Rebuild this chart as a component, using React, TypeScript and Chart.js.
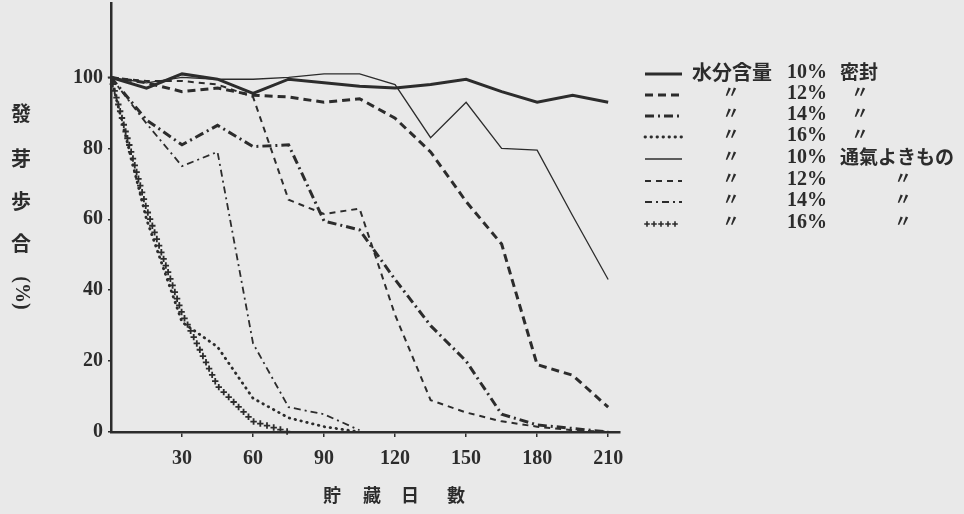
import React, { useEffect, useRef } from "react";
import { Chart, registerables } from "chart.js";
Chart.register(...registerables);

// ---- data ----
const days = [0, 15, 30, 45, 60, 75, 90, 105, 120, 135, 150, 165, 180, 195, 210];
const sealed10 = [100, 97, 101, 99.5, 95.5, 99.5, 98.5, 97.5, 97, 98, 99.5, 96, 93, 95, 93];
const sealed12 = [100, 98.5, 96, 97, 95, 94.5, 93, 94, 88.5, 79, 65, 53, 19, 16, 7];
const sealed14 = [100, 88, 81, 86.5, 80.5, 81, 59.5, 57, 43, 30, 20, 5, 2, 1, 0];
const sealed16 = [100, 60, 31, 24, 9.5, 4, 1.5, 0, null, null, null, null, null, null, null];
const aerated10 = [100, 98.5, 100, 99.5, 99.5, 100, 101, 101, 98, 83, 93, 80, 79.5, 61, 43];
const aerated12 = [100, 99, 99, 98, 94.5, 65.5, 61.5, 63, 33, 9, 5.5, 3, 1.5, 0.5, 0];
const aerated14 = [100, 87, 75, 79, 25, 7, 5, 0.5, null, null, null, null, null, null, null];
const aerated16 = [100, 63, 33.5, 13, 3, 0, null, null, null, null, null, null, null, null, null];

const xTickValues = [30, 60, 90, 120, 150, 180, 210];
const yTickValues = [0, 20, 40, 60, 80, 100];
const legendMoisture = ["10%", "12%", "14%", "16%", "10%", "12%", "14%", "16%"];
const legendHead = "水分含量";
const legendSealed = "密封";
const legendAerated = "通氣よきもの";
const ditto = "〃";
const yTitleChars = ["發", "芽", "歩", "合"];
const yTitleUnit = "(%)";
const xTitleChars = ["貯", "藏", "日", "數"];

const seriesValues = [sealed10, sealed12, sealed14, sealed16, aerated10, aerated12, aerated14, aerated16];

// ---- styles ----
const INK = "#2c2c2c";
const BG = "#e9e9e9";
const CJK = '"Noto Sans CJK JP", sans-serif';
const NUM = '"Liberation Serif", "DejaVu Serif", serif';

const styles = [
  { width: 3, dash: [] as number[], cap: "butt" },
  { width: 3, dash: [8, 5], cap: "butt" },
  { width: 3, dash: [9, 4, 2, 4], cap: "butt" },
  { width: 2.8, dash: [0.5, 5.5], cap: "round" },
  { width: 1.3, dash: [] as number[], cap: "butt" },
  { width: 2, dash: [6, 5], cap: "butt" },
  { width: 1.8, dash: [7, 4, 2, 4], cap: "butt" },
  { width: 0, dash: [] as number[], cap: "butt", cross: true },
];

function drawCross(ctx: CanvasRenderingContext2D, x: number, y: number, s: number) {
  ctx.beginPath();
  ctx.moveTo(x - s, y);
  ctx.lineTo(x + s, y);
  ctx.moveTo(x, y - s);
  ctx.lineTo(x, y + s);
  ctx.stroke();
}

const decorPlugin = {
  id: "decor",
  beforeDraw(chart: any) {
    const ctx = chart.ctx as CanvasRenderingContext2D;
    ctx.save();
    ctx.fillStyle = BG;
    ctx.fillRect(0, 0, chart.width, chart.height);
    ctx.restore();
  },
  afterDatasetsDraw(chart: any) {
    const ctx = chart.ctx as CanvasRenderingContext2D;
    // crosses along the 16% aerated line
    const meta = chart.getDatasetMeta(7);
    ctx.save();
    ctx.strokeStyle = INK;
    ctx.lineWidth = 1.8;
    const pts = meta.data;
    let carry = 0;
    for (let i = 0; i < pts.length - 1; i++) {
      const a = pts[i], b = pts[i + 1];
      if (a.skip || b.skip) continue;
      const dx = b.x - a.x, dy = b.y - a.y;
      const len = Math.hypot(dx, dy);
      let t = carry;
      while (t <= len) {
        drawCross(ctx, a.x + (dx * t) / len, a.y + (dy * t) / len, 3.2);
        t += 7;
      }
      carry = t - len;
    }
    ctx.restore();
  },
  afterDraw(chart: any) {
    const ctx = chart.ctx as CanvasRenderingContext2D;
    ctx.save();
    ctx.fillStyle = INK;
    ctx.strokeStyle = INK;
    ctx.textAlign = "center";
    ctx.textBaseline = "middle";
    // y title
    ctx.font = `bold 20px ${CJK}`;
    const yc = [113, 158, 201, 243];
    yTitleChars.forEach((c, i) => ctx.fillText(c, 21, yc[i]));
    ctx.save();
    ctx.translate(21, 293);
    ctx.rotate(Math.PI / 2);
    ctx.font = `bold 20px ${NUM}`;
    ctx.fillText(yTitleUnit, 0, 0);
    ctx.restore();
    // x title
    ctx.font = `bold 18px ${CJK}`;
    const xc = [332, 372, 410, 456];
    xTitleChars.forEach((c, i) => ctx.fillText(c, xc[i], 495));

    // legend
    const rows = [72, 93, 114, 135, 157, 179, 200, 222];
    rows.forEach((ry, i) => {
      const st: any = styles[i];
      const ly = ry + 2;
      if (st.cross) {
        ctx.lineWidth = 1.6;
        for (let x = 647; x <= 681; x += 7) drawCross(ctx, x, ly, 2.8);
      } else {
        ctx.save();
        ctx.lineWidth = st.width;
        ctx.lineCap = st.cap;
        ctx.setLineDash(st.dash);
        ctx.beginPath();
        ctx.moveTo(645, ly);
        ctx.lineTo(682, ly);
        ctx.stroke();
        ctx.restore();
      }
      ctx.textAlign = "left";
      ctx.font = `bold 20px ${NUM}`;
      ctx.fillText(legendMoisture[i], 787, ry + 1);
      if (i === 0) {
        ctx.font = `bold 20px ${CJK}`;
        ctx.fillText(legendHead, 692, ry);
        ctx.font = `bold 19px ${CJK}`;
        ctx.fillText(legendSealed, 840, ry);
      } else {
        ctx.textAlign = "center";
        ctx.font = `bold 17px ${CJK}`;
        ctx.fillText(ditto, 731, ry - 1);
        if (i === 4) {
          ctx.textAlign = "left";
          ctx.font = `bold 19px ${CJK}`;
          ctx.fillText(legendAerated, 840, ry);
        } else {
          ctx.textAlign = "center";
          ctx.fillText(ditto, i < 4 ? 860 : 903, ry - 1);
        }
      }
      ctx.textAlign = "center";
    });
    ctx.restore();
  },
};

export default function App() {
  const ref = useRef<HTMLCanvasElement>(null);
  useEffect(() => {
    if (!ref.current) return;
    const datasets = seriesValues.map((vals, i) => ({
      label: legendMoisture[i],
      data: days.map((d, j) => ({ x: d, y: vals[j] })),
      borderColor: (styles[i] as any).cross ? "rgba(0,0,0,0)" : INK,
      borderWidth: styles[i].width || 1,
      borderDash: styles[i].dash,
      borderCapStyle: styles[i].cap,
      pointRadius: 0,
      fill: false,
      spanGaps: false,
      tension: 0,
    }));
    const chart = new Chart(ref.current, {
      type: "line",
      data: { datasets },
      options: {
        animation: false,
        responsive: false,
        maintainAspectRatio: false,
        devicePixelRatio: 1,
        layout: { padding: { left: 0, top: 3, right: 344, bottom: 0 } },
        plugins: { legend: { display: false }, tooltip: { enabled: false } },
        scales: {
          x: {
            type: "linear",
            min: 0,
            max: 215,
            afterFit: (s: any) => { s.height = 82; s.paddingLeft = 0; s.paddingRight = 0; },
            afterBuildTicks: (s: any) => { s.ticks = xTickValues.map((v) => ({ value: v })); },
            ticks: { color: INK, font: { family: NUM, size: 20, weight: "bold" }, padding: 10, maxRotation: 0, autoSkip: false },
            grid: { display: true, drawOnChartArea: false, drawTicks: true, tickLength: 5, color: INK, lineWidth: 1.5 },
            border: { display: true, color: INK, width: 2.5 },
          },
          y: {
            type: "linear",
            min: 0,
            max: 121,
            afterFit: (s: any) => { s.width = 111; s.paddingTop = 0; s.paddingBottom = 0; },
            afterBuildTicks: (s: any) => { s.ticks = yTickValues.map((v) => ({ value: v })); },
            ticks: { color: INK, font: { family: NUM, size: 20, weight: "bold" }, padding: 5, autoSkip: false },
            grid: { display: true, drawOnChartArea: false, drawTicks: true, tickLength: 3, color: INK, lineWidth: 1.5 },
            border: { display: true, color: INK, width: 2.5 },
          },
        },
      } as any,
      plugins: [decorPlugin],
    });
    return () => chart.destroy();
  }, []);
  return (
    <div style={{ position: "fixed", left: 0, top: 0, width: 964, height: 514, background: BG }}>
      <canvas ref={ref} width={964} height={514} style={{ width: 964, height: 514, display: "block" }} />
    </div>
  );
}
